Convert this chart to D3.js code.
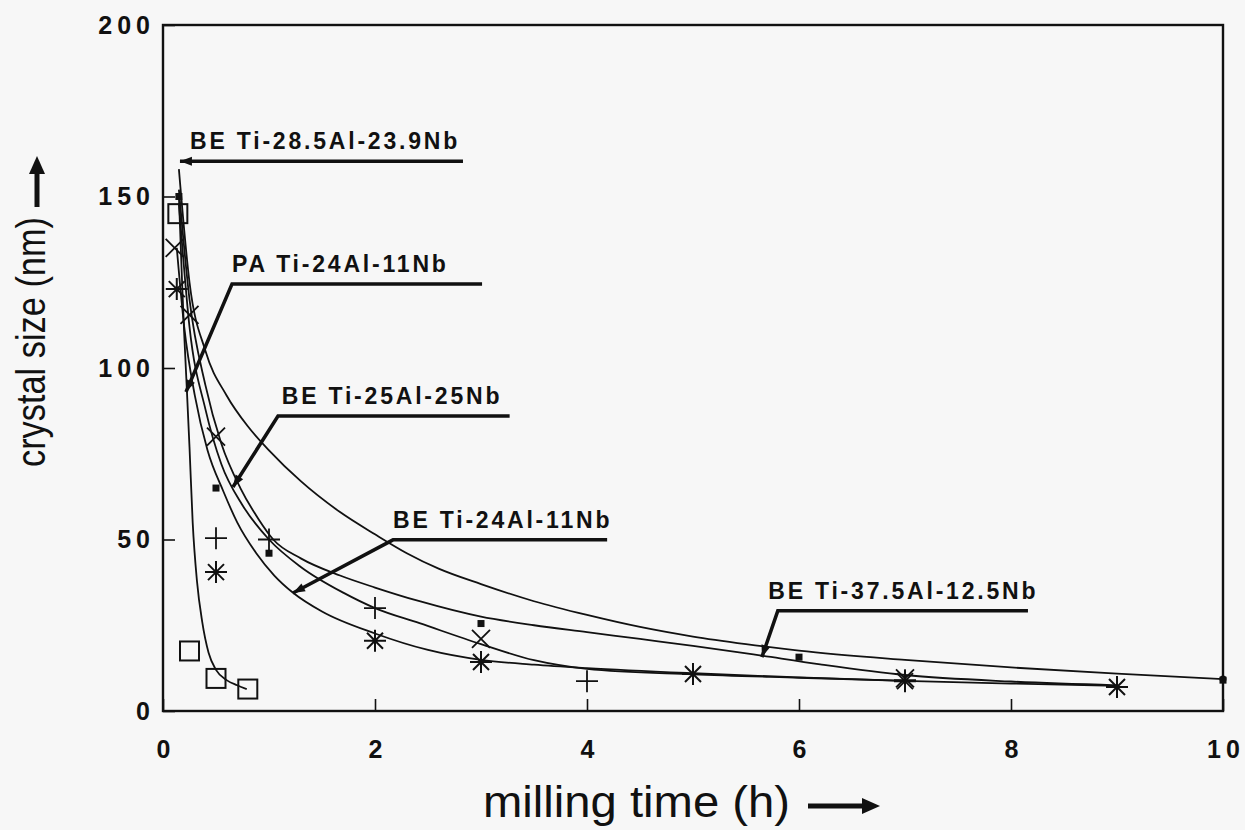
<!DOCTYPE html>
<html><head><meta charset="utf-8">
<script src="https://cdn.jsdelivr.net/npm/d3@7"></script>
<style>
body{margin:0;background:#f7f7f7}
svg{display:block}
</style>
</head><body>
<svg id="chart" width="1245" height="830"></svg>
<script>
// Axes
const xTicks = [0, 2, 4, 6, 8, 10];
const yTicks = [0, 50, 100, 150, 200];

// Measured crystal sizes (nm) vs milling time (h), one array pair per marker type
const filledSqT = [0.15, 0.5, 1, 3, 6, 10];
const filledSqV = [150, 65, 46, 25.5, 15.7, 9];
const openSqT = [0.14, 0.25, 0.5, 0.8];
const openSqV = [145, 17.5, 9.5, 6.4];
const timesT = [0.11, 0.25, 0.5, 3, 7];
const timesV = [135, 115.5, 80, 21, 9.5];
const plusT = [0.5, 1, 2, 4, 7];
const plusV = [50.4, 50, 30, 8.7, 9];
const starT = [0.13, 0.5, 2, 3, 5, 7, 9];
const starV = [123, 40.5, 20.5, 14.3, 10.8, 8.7, 7];

// Fitted curves
const curvePA_T = [0.15, 0.18, 0.2, 0.22, 0.25, 0.28, 0.32, 0.37, 0.43, 0.5, 0.6, 0.7, 0.79];
const curvePA_V = [150, 125, 110, 97, 77, 55, 38, 26, 17, 12, 9, 7.5, 6.4];
const curveB_T = [0.15, 0.25, 0.4, 0.6, 0.8, 1.0, 1.3, 1.67, 2, 2.3, 2.6, 3, 3.5, 4, 4.5, 5, 5.5, 6, 7, 8, 9, 10];
const curveB_V = [158, 125, 105, 92, 83, 76, 67, 58, 51.5, 46, 41.5, 37, 32, 28, 24.5, 21.7, 19.5, 17.6, 14.9, 12.7, 10.9, 9.3];
const curveC_T = [0.15, 0.25, 0.4, 0.55, 0.73, 0.9, 1.04, 1.3, 1.67, 2, 2.42, 3, 3.5, 4, 4.5, 5, 5.57, 6.2, 7, 8, 9];
const curveC_V = [152, 120, 95, 78, 65, 56, 50, 44.5, 39.5, 36, 32, 27.5, 25, 23, 21, 19, 16.5, 13.6, 10.5, 8.6, 7.5];
const curveD_T = [0.15, 0.25, 0.4, 0.55, 0.75, 1, 1.3, 1.7, 2, 2.42, 3, 3.5, 4, 5, 6, 7];
const curveD_V = [148, 112, 88, 72, 60, 50, 42, 34.5, 30, 25.6, 19.5, 14.8, 12.3, 10.7, 9.7, 8.8];
const curveE_T = [0.13, 0.2, 0.3, 0.42, 0.57, 0.7, 0.88, 1.05, 1.23, 1.5, 2, 2.5, 3, 3.5, 4, 5, 6, 7, 8, 9];
const curveE_V = [135, 112, 92, 76, 64, 55, 46, 39.5, 34.4, 29, 22.6, 17.8, 14.9, 13.5, 12.5, 11, 9.8, 8.8, 8, 7.3];

// Callout labels: arrow tip, elbow, end of underline, text start (data units)
const annText = ["BE Ti-28.5Al-23.9Nb", "PA Ti-24Al-11Nb", "BE Ti-25Al-25Nb", "BE Ti-24Al-11Nb", "BE Ti-37.5Al-12.5Nb"];
const annTipT = [0.16, 0.217, 0.66, 1.226, 5.65];
const annTipV = [160.3, 93, 65.3, 34.4, 15.7];
const annElbowT = [0.16, 0.651, 1.085, 2.17, 5.8];
const annElbowV = [160.3, 124.5, 86, 49.9, 29.2];
const annEndT = [2.83, 3.01, 3.27, 4.19, 8.16];
const annTextT = [0.255, 0.651, 1.12, 2.17, 5.71];

const svg = d3.select("#chart");
const W = 1245, H = 830;
svg.append("rect").attr("width", W).attr("height", H).attr("fill", "#f7f7f7");

const x = d3.scaleLinear().domain([0, 10]).range([163, 1223]);
const y = d3.scaleLinear().domain([0, 200]).range([711, 25]);

const ink = "#111";
const font = "'Liberation Sans', Arial, sans-serif";

// Axes with inward ticks
const gx = svg.append("g").attr("transform", `translate(0,${y(0)})`)
  .call(d3.axisBottom(x).tickValues(xTicks).tickSizeInner(-12).tickSizeOuter(0).tickPadding(29).tickFormat(d3.format("d")));
const gy = svg.append("g").attr("transform", `translate(${x(0)},0)`)
  .call(d3.axisLeft(y).tickValues(yTicks).tickSizeInner(-12).tickSizeOuter(0).tickPadding(13).tickFormat(d3.format("d")));
[gx, gy].forEach(g => {
  g.select(".domain").remove();
  g.selectAll(".tick line").attr("stroke", ink).attr("stroke-width", 1.6);
  g.selectAll(".tick text")
    .attr("fill", ink)
    .style("font-family", font)
    .style("font-weight", "bold")
    .style("font-size", "25px")
    .style("letter-spacing", "5px");
});
gy.selectAll(".tick text").attr("dx", "5px");
gx.selectAll(".tick text").attr("dx", "2.5px");

// Plot frame
svg.append("rect")
  .attr("x", x(0)).attr("y", y(200))
  .attr("width", x(10) - x(0)).attr("height", y(0) - y(200))
  .attr("fill", "none").attr("stroke", ink).attr("stroke-width", 2.4);

// Curves
const line = d3.line().x(d => x(d[0])).y(d => y(d[1])).curve(d3.curveMonotoneX);
const curves = [
  [curvePA_T, curvePA_V],
  [curveB_T, curveB_V],
  [curveC_T, curveC_V],
  [curveD_T, curveD_V],
  [curveE_T, curveE_V]
];
svg.append("g").selectAll("path").data(curves).join("path")
  .attr("d", c => line(d3.zip(c[0], c[1])))
  .attr("fill", "none").attr("stroke", ink).attr("stroke-width", 1.8);

// End point dot of the longest curve
svg.append("circle").attr("cx", x(10)).attr("cy", y(9.3)).attr("r", 3.5).attr("fill", ink);

// Markers
const mk = svg.append("g").attr("stroke", ink).attr("fill", "none");
const pts = (T, V) => d3.zip(T, V);

mk.selectAll(".osq").data(pts(openSqT, openSqV)).join("rect")
  .attr("x", d => x(d[0]) - 9.5).attr("y", d => y(d[1]) - 9.5)
  .attr("width", 19).attr("height", 19).attr("stroke-width", 2);

mk.selectAll(".fsq").data(pts(filledSqT, filledSqV)).join("rect")
  .attr("x", d => x(d[0]) - 3.5).attr("y", d => y(d[1]) - 3.5)
  .attr("width", 7).attr("height", 7).attr("fill", ink).attr("stroke", "none");

mk.selectAll(".tim").data(pts(timesT, timesV)).join("path")
  .attr("d", d => { const cx = x(d[0]), cy = y(d[1]), r = 9;
    return `M${cx-r},${cy-r}L${cx+r},${cy+r}M${cx-r},${cy+r}L${cx+r},${cy-r}`; })
  .attr("stroke-width", 1.8);

mk.selectAll(".pls").data(pts(plusT, plusV)).join("path")
  .attr("d", d => { const cx = x(d[0]), cy = y(d[1]), r = 11;
    return `M${cx-r},${cy}L${cx+r},${cy}M${cx},${cy-r}L${cx},${cy+r}`; })
  .attr("stroke-width", 1.8);

mk.selectAll(".str").data(pts(starT, starV)).join("path")
  .attr("d", d => { const cx = x(d[0]), cy = y(d[1]), r = 11, q = 8;
    return `M${cx-r},${cy}L${cx+r},${cy}M${cx},${cy-r}L${cx},${cy+r}` +
           `M${cx-q},${cy-q}L${cx+q},${cy+q}M${cx-q},${cy+q}L${cx+q},${cy-q}`; })
  .attr("stroke-width", 2);

// Callouts
const ann = svg.append("g");
annText.forEach((txt, i) => {
  const tx = x(annTipT[i]), ty = y(annTipV[i]);
  const ex = x(annElbowT[i]), ey = y(annElbowV[i]);
  const endX = x(annEndT[i]);
  ann.append("path")
    .attr("d", `M${endX},${ey}L${ex},${ey}L${tx},${ty}`)
    .attr("fill", "none").attr("stroke", ink).attr("stroke-width", 3.5)
    .attr("stroke-linejoin", "miter");
  // arrowhead pointing along the last segment
  let dx = tx - ex, dy = ty - ey;
  if (Math.hypot(dx, dy) < 1) { dx = tx - endX; dy = 0; }
  const len = Math.hypot(dx, dy), ux = dx / len, uy = dy / len;
  const hl = 12, hw = 4.5;
  const bx = tx - ux * hl, by = ty - uy * hl;
  ann.append("path")
    .attr("d", `M${tx},${ty}L${bx - uy * hw},${by + ux * hw}L${bx + uy * hw},${by - ux * hw}Z`)
    .attr("fill", ink);
  ann.append("text")
    .attr("x", x(annTextT[i])).attr("y", ey - 12)
    .attr("fill", ink)
    .style("font-family", font)
    .style("font-weight", "bold")
    .style("font-size", "23px")
    .style("letter-spacing", "2.8px")
    .text(txt);
});

// Axis titles with arrows
svg.append("text")
  .attr("x", 483).attr("y", 817)
  .attr("textLength", 307).attr("lengthAdjust", "spacingAndGlyphs")
  .attr("fill", ink)
  .style("font-family", font)
  .style("font-size", "44px")
  .text("milling time (h)");
svg.append("path").attr("d", "M808,806L866,806").attr("stroke", ink).attr("stroke-width", 5);
svg.append("path").attr("d", "M880,806L862,798L862,814Z").attr("fill", ink);

svg.append("text")
  .attr("transform", "translate(45,467) rotate(-90)")
  .attr("textLength", 250).attr("lengthAdjust", "spacingAndGlyphs")
  .attr("fill", ink)
  .style("font-family", font)
  .style("font-size", "41px")
  .text("crystal size (nm)");
svg.append("path").attr("d", "M37,207L37,170").attr("stroke", ink).attr("stroke-width", 5);
svg.append("path").attr("d", "M37,156L29,174L45,174Z").attr("fill", ink);
</script>
</body></html>
